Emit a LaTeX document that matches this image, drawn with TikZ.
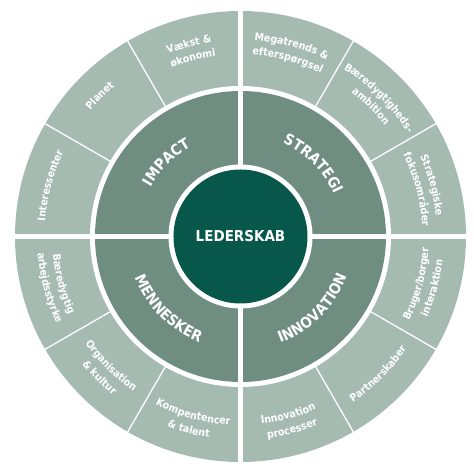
\documentclass[tikz,border=0pt]{standalone}
\usepackage{fontspec}
\usetikzlibrary{decorations.text}
\newfontfamily\labfont{DejaVu Sans Condensed}
\newcommand{\ofnt}{\labfont\bfseries\fontsize{10.5}{12}\selectfont}
\newcommand{\ifnt}{\labfont\bfseries\fontsize{15}{17}\selectfont}
\definecolor{outerc}{HTML}{A5BBB2}
\definecolor{innerc}{HTML}{6F8E81}
\definecolor{centerc}{HTML}{07574A}
\tikzset{
  centerlab/.style={text=white, font=\ifnt, inner sep=0pt},
  cwtext/.style={decorate, decoration={text along path, text align=center, text color=white, text={|\ofnt|#1}}},
  cwitext/.style={decorate, decoration={text along path, text align=center, text color=white, text={|\ifnt|#1}}},
  biggap/.style={white, line width=5.5pt},
  thingap/.style={white, line width=1.3pt}
}
% top-half arc (clockwise), args: angle, radius
\newcommand{\topArc}[2]{({#1+25}:#2) arc[start angle={#1+25}, end angle={#1-25}, radius=#2]}
\newcommand{\botArc}[2]{({#1-25}:#2) arc[start angle={#1-25}, end angle={#1+25}, radius=#2]}
\newcommand{\topArcW}[2]{({#1+44}:#2) arc[start angle={#1+44}, end angle={#1-44}, radius=#2]}
\newcommand{\botArcW}[2]{({#1-44}:#2) arc[start angle={#1-44}, end angle={#1+44}, radius=#2]}
\begin{document}
\begin{tikzpicture}[x=1pt,y=1pt]
\useasboundingbox (-240.5,-233.5) rectangle (233.5,236.5);
\fill[outerc] (0,0) circle (225.5);
\fill[white] (0,0) circle (150.5);
\fill[innerc] (0,0) circle (145.5);
\fill[white] (0,0) circle (72);
\fill[centerc] (0,0) circle (67);
% quadrant gaps
\foreach \a in {0,90,180,270} \draw[biggap] (\a:68) -- (\a:232);
% sector dividers
\foreach \a in {30,60,120,150,210,240,300,330} \draw[thingap] (\a:149) -- (\a:232);
% center
\node[centerlab] (lead) at (0,0) {LEDERSKAB};
% inner labels
\path[cwitext={IMPACT}] \topArcW{135}{102.5};
\path[cwitext={STRATEGI}] \topArcW{45}{102.5};
\path[cwitext={INNOVATION}] \botArcW{-45}{113.5};
\path[cwitext={MENNESKER}] \botArcW{-135}{113.5};
% outer labels, top half
\path[cwtext={Interessenter}] \topArc{165}{196};
\path[cwtext={Planet}] \topArc{135}{196};
\path[cwtext={Vækst {\&}}] \topArc{105}{196.5};
\path[cwtext={økonomi}] \topArc{105}{182};
\path[cwtext={Megatrends {\&}}] \topArc{75}{196.5};
\path[cwtext={efterspørgsel}] \topArc{75}{182};
\path[cwtext={Bæredygtigheds-}] \topArc{45}{196.5};
\path[cwtext={ambition}] \topArc{45}{182};
\path[cwtext={Strategiske}] \topArc{15}{196.5};
\path[cwtext={fokusområder}] \topArc{15}{182};
% outer labels, bottom half
\path[cwtext={Bruger/borger}] \botArc{-15}{188.5};
\path[cwtext={interaktion}] \botArc{-15}{203.5};
\path[cwtext={Partnerskaber}] \botArc{-45}{200.5};
\path[cwtext={Innovation}] \botArc{-75}{188.5};
\path[cwtext={processer}] \botArc{-75}{203.5};
\path[cwtext={Kompentencer}] \botArc{-105}{188.5};
\path[cwtext={{\&} talent}] \botArc{-105}{203.5};
\path[cwtext={Organisation}] \botArc{-135}{188.5};
\path[cwtext={{\&} kultur}] \botArc{-135}{203.5};
\path[cwtext={Bæredygtig}] \botArc{-165}{188.5};
\path[cwtext={arbejdsstyrke}] \botArc{-165}{203.5};
\end{tikzpicture}
\end{document}
